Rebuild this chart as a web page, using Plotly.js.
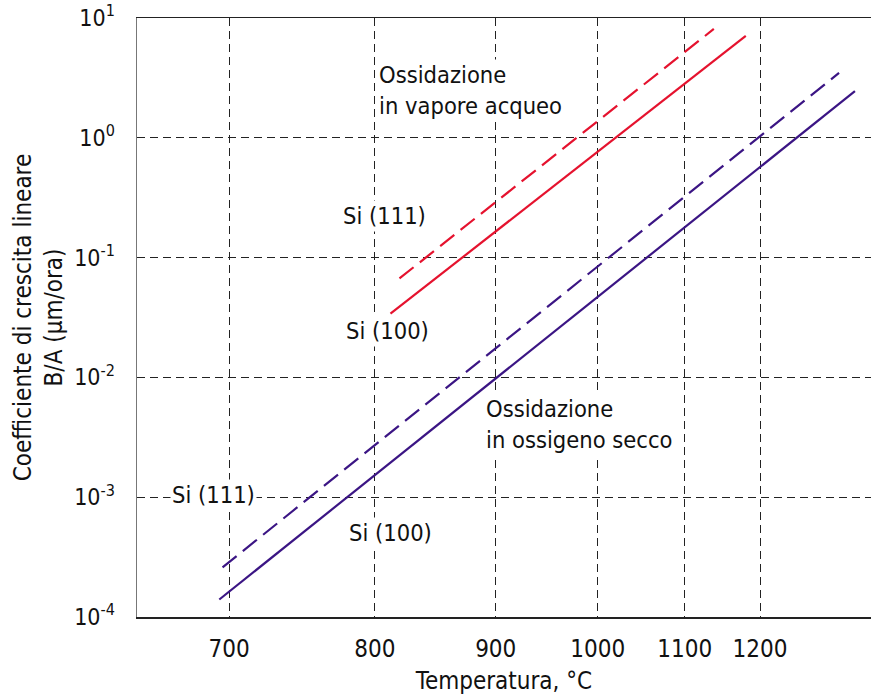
<!DOCTYPE html>
<html>
<head>
<meta charset="utf-8">
<script src="https://cdn.plot.ly/plotly-3.0.1.min.js"></script>
<style>html,body{margin:0;padding:0;background:#fff;}#chart{width:871px;height:695px;}</style>
</head>
<body>
<div id="chart"></div>
<script>
// Temperatures in °C (line end points) and B/A values in µm/ora
const steam100T = [812, 1180];
const steam100V = [0.034, 7.1];
const steam111T = [819, 1137];
const steam111V = [0.067, 8.1];
const dry100T = [694, 1349];
const dry100V = [1.4e-4, 2.45];
const dry111T = [696, 1322];
const dry111V = [2.6e-4, 3.48];

const tickTemps = [700, 800, 900, 1000, 1100, 1200];
const tickLabels = ['700', '800', '900', '1000', '1100', '1200'];
const yTickVals = [1e-4, 1e-3, 1e-2, 1e-1, 1, 10];
const yTickLabels = ['10<sup>-4</sup>', '10<sup>-3</sup>', '10<sup>-2</sup>', '10<sup>-1</sup>', '10<sup>0</sup>', '10<sup>1</sup>'];

// x axis is reciprocal absolute temperature (1000/T, K)
const inv = t => 1000 / (t + 273.15);

const RED = '#e5122e';
const PURPLE = '#3b1584';
const FONT = '"DejaVu Sans Condensed", "Liberation Sans", sans-serif';

function tr(T, V, color, dash) {
  return {
    x: T.map(inv), y: V, type: 'scatter', mode: 'lines',
    line: {color: color, width: 2.2, dash: dash},
    hoverinfo: 'skip', showlegend: false
  };
}

const data = [
  tr(dry100T, dry100V, PURPLE, 'solid'),
  tr(dry111T, dry111V, PURPLE, '18px,8px'),
  tr(steam100T, steam100V, RED, 'solid'),
  tr(steam111T, steam111V, RED, '18px,8px')
];

function ann(text, px, py, xanchor, align) {
  return {
    text: text, xref: 'paper', yref: 'paper',
    x: (px - 137) / 734, y: (617 - py) / 599,
    xanchor: xanchor, yanchor: 'middle', align: align,
    showarrow: false, bgcolor: '#ffffff', borderpad: 1,
    font: {family: FONT, size: 23.5, color: '#111'}
  };
}

const layout = {
  width: 871, height: 695,
  margin: {l: 137, r: 0, t: 18, b: 78},
  paper_bgcolor: '#ffffff', plot_bgcolor: '#ffffff',
  font: {family: FONT, color: '#111'},
  xaxis: {
    range: [1.08802, 0.60591],
    tickvals: tickTemps.map(inv), ticktext: tickLabels,
    tickfont: {family: FONT, size: 24, color: '#111'},
    ticks: '', ticklabelstandoff: 10,
    showgrid: true, gridcolor: '#222', gridwidth: 1, griddash: '8px,5px',
    showline: true, linecolor: '#222', linewidth: 1.5, mirror: true,
    zeroline: false,
    title: {text: 'Temperatura, °C', font: {family: FONT, size: 24, color: '#111'}, standoff: 10}
  },
  yaxis: {
    type: 'log', range: [-4, 1],
    tickvals: yTickVals, ticktext: yTickLabels,
    tickfont: {family: FONT, size: 23, color: '#111'},
    ticks: '', ticklabelstandoff: 16,
    showgrid: true, gridcolor: '#222', gridwidth: 1, griddash: '8px,5px',
    showline: true, linecolor: '#777', linewidth: 1.5, mirror: false,
    zeroline: false,
    title: {text: 'Coefficiente di crescita lineare<br>B/A (µm/ora)', font: {family: FONT, size: 24, color: '#111'}, standoff: 4}
  },
  annotations: [
    ann('Ossidazione<br>in vapore acqueo', 377, 91, 'left', 'left'),
    ann('Si (111)', 384, 216, 'center', 'center'),
    ann('Si (100)', 387, 331, 'center', 'center'),
    ann('Ossidazione<br>in ossigeno secco', 484, 425, 'left', 'left'),
    ann('Si (111)', 213, 495, 'center', 'center'),
    ann('Si (100)', 390, 533, 'center', 'center')
  ]
};

Plotly.newPlot('chart', data, layout, {displayModeBar: false, staticPlot: true});
</script>
</body>
</html>
